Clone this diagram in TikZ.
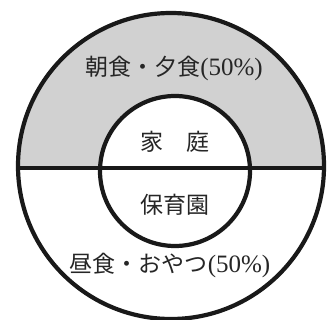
\documentclass[tikz,border=0pt]{standalone}
\usepackage{fontspec}
\newfontfamily\jp{Noto Sans CJK JP}
\newfontfamily\lat{Liberation Serif}
\begin{document}
\begin{tikzpicture}[x=1pt,y=-1pt,
  ring/.style={circle,draw=black!90,line width=4.2pt,inner sep=0pt,outer sep=0pt},
  lbl/.style={inner sep=0pt,font=\jp\fontsize{23pt}{26pt}\selectfont,text=black!85},
  shade/.style={fill=black!18}]
\useasboundingbox (0,0) rectangle (331,320);
\fill[white] (0,0) rectangle (331,320);
% shaded upper half of the outer ring
\begin{scope}
  \clip (0,0) rectangle (331,168);
  \fill[shade] (171,166) circle[radius=153pt];
\end{scope}
\fill[white] (175,171) circle[radius=75pt];
% circles
\node[ring,minimum size=306pt] (outer) at (171,166) {};
\node[ring,minimum size=150pt] (inner) at (175,171) {};
% dividing line
\coordinate (lw) at (18,168);
\coordinate (le) at (324,168);
\draw[line width=3.4pt,draw=black!90] (lw) -- (le);
% labels
\node[lbl] (t1) at (174,68) {朝食・夕食{\lat\fontsize{25pt}{26pt}\selectfont(50\%)}};
\node[lbl] (t2) at (175,142) {家　庭};
\node[lbl] (t3) at (175,205) {保育園};
\node[lbl] (t4) at (170,265) {昼食・おやつ{\lat\fontsize{25pt}{26pt}\selectfont(50\%)}};
\end{tikzpicture}
\end{document}
